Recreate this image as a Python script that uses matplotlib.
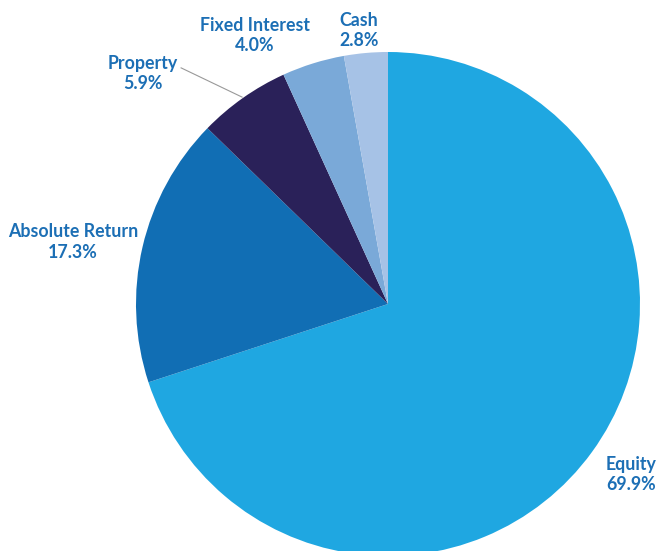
import matplotlib.pyplot as plt

labels = ['Equity', 'Absolute Return', 'Property', 'Fixed Interest', 'Cash']
shares = [69.9, 17.3, 5.9, 4.0, 2.8]
colors = ['#1fa7e1', '#116eb4', '#2a2159', '#7aa9d8', '#a6c2e6']

# label positions in pie units (radius = 1)
label_pos = [(0.964, -0.675), (-1.25, 0.246), (-0.972, 0.913),
             (-0.528, 1.067), (-0.115, 1.087)]

plt.rcParams['font.family'] = ['Lato', 'DejaVu Sans']

fig = plt.figure(figsize=(6.56, 5.51), dpi=100)
# center at (388, 304) px, radius 252 px
ax = fig.add_axes([136 / 656, (551 - 304 - 252) / 551, 504 / 656, 504 / 551])
ax.pie(shares, colors=colors, startangle=90, counterclock=False,
       radius=1, wedgeprops=dict(linewidth=0))
ax.set_xlim(-1, 1)
ax.set_ylim(-1, 1)
ax.set_aspect('equal')
ax.axis('off')

for name, val, (x, y) in zip(labels, shares, label_pos):
    ax.text(x, y, f'{name}\n{val:.1f}%', ha='center', va='center',
            fontsize=12.8, fontweight='bold', color='#1c6fb5',
            linespacing=1.22, clip_on=False)

# leader line for Property
ax.plot([-0.821, -0.579], [0.937, 0.821], color='#999999', lw=0.8,
        clip_on=False)

fig.savefig('out.png', dpi=100)
